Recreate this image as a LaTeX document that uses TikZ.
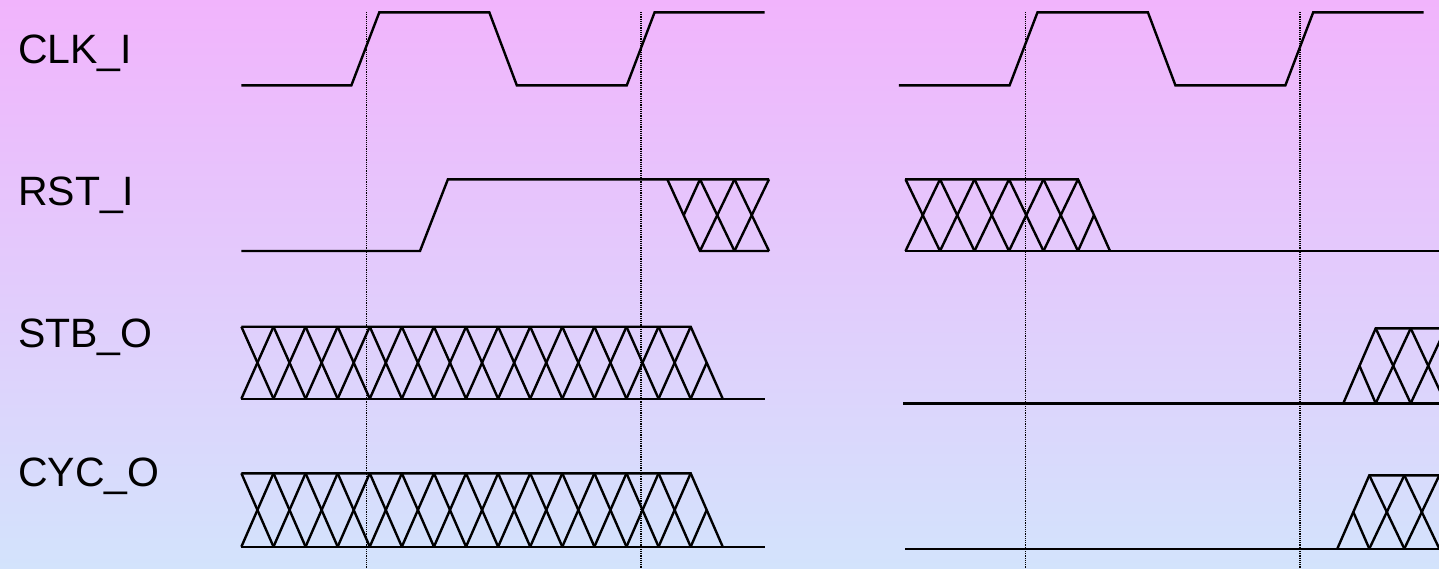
\documentclass[tikz,border=0pt]{standalone}
\usepackage{fontspec}
\usepackage{tikz}
\usetikzlibrary{positioning}
\newfontfamily\sigfont{Liberation Sans}
\definecolor{bgtop}{RGB}{241,180,252}
\definecolor{bgbottom}{RGB}{211,227,252}
\tikzstyle{wave} = [line width=2.4pt, color=black]
\tikzstyle{edgeline} = [line width=1.1pt, color=black, dash pattern=on 1.1pt off 1.1pt]
\tikzstyle{signame} = [anchor=base west, inner sep=0pt, font=\sigfont\fontsize{41}{48}\selectfont]
% undefined data: x0, count, width, top, bottom
\newcommand{\unkcells}[5]{%
  \foreach \k in {1,...,#2}{
    \draw[wave] ({#1+(\k-1)*#3},#4) -- ({#1+\k*#3},#5);
    \draw[wave] ({#1+(\k-1)*#3},#5) -- ({#1+\k*#3},#4);
  }}

\begin{document}
\begin{tikzpicture}[x=1pt, y=-1pt]
\clip (0,0) rectangle (1439,568);
\shade[top color=bgtop, bottom color=bgbottom] (0,0) rectangle (1439,568);

% Signal names
\node (clk) [signame] at (18,63.4) {CLK\_I};
\node (rst) [signame] at (18,205.5) {RST\_I};
\node (stb) [signame] at (18,347.6) {STB\_O};
\node (cyc) [signame] at (18,486.3) {CYC\_O};

% Clock edges
\foreach \x in {366.8, 641, 1025.4, 1300}
  \draw[edgeline] (\x,12) -- (\x,568);

% CLK_I
\draw[wave] (241.4,85.3) -- (351.4,85.3) -- (379.3,12.3) -- (489.3,12.3) -- (516.8,85.3)
  -- (626.8,85.3) -- (654.6,12.3) -- (764.6,12.3);
\draw[wave] (898.9,85.3) -- (1009.6,85.3) -- (1037.5,12.3) -- (1147.9,12.3) -- (1175.4,85.3)
  -- (1285.4,85.3) -- (1313.2,12.3) -- (1423.6,12.3);

% RST_I
\draw[wave] (241.4,251) -- (420,251) -- (447.9,179.3) -- (769,179.3);
\draw[wave] (667.3,179.3) -- (700,251) -- (769,251);
\draw[wave] (683.7,215.2) -- (700,179.3);
\unkcells{700}{2}{34.5}{179.3}{251}
\draw[wave] (905,179.3) -- (1078,179.3) -- (1110,251);
\draw[wave] (905,251) -- (1439,251);
\draw[wave] (1078,251) -- (1094,215.2);
\unkcells{905.5}{5}{34.5}{179.3}{251}

% STB_O
\draw[wave] (241.4,326.7) -- (690.7,326.7) -- (722.7,398.7);
\draw[wave] (241.4,398.7) -- (765,398.7);
\draw[wave] (690.7,398.7) -- (706.7,362.7);
\unkcells{241.4}{14}{32.09}{326.7}{398.7}
\draw[wave] (903,403.3) -- (1439,403.3);
\draw[wave] (1343.3,403.3) -- (1375.7,328.3) -- (1439,328.3);
\draw[wave] (1359.5,365.8) -- (1375.7,403.3);
\unkcells{1375.7}{2}{35}{328.3}{403.3}

% CYC_O
\draw[wave] (241.4,473.3) -- (690.7,473.3) -- (722.7,546.7);
\draw[wave] (241.4,546.7) -- (765,546.7);
\draw[wave] (690.7,546.7) -- (706.7,510);
\unkcells{241.4}{14}{32.09}{473.3}{546.7}
\draw[wave] (905,548.7) -- (1439,548.7);
\draw[wave] (1337.3,548.7) -- (1369.3,475.3) -- (1439,475.3);
\draw[wave] (1353.3,512) -- (1369.3,548.7);
\unkcells{1369.3}{2}{35}{475.3}{548.7}
\end{tikzpicture}
\end{document}
